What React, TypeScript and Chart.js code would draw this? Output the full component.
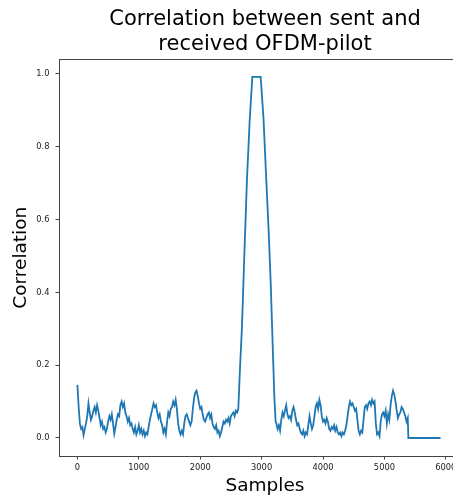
import React, { useEffect, useRef } from "react";
import { Chart, registerables } from "chart.js";

Chart.register(...registerables);

const TITLE_LINES = ["Correlation between sent and", "received OFDM-pilot"];
const X_LABEL = "Samples";
const Y_LABEL = "Correlation";
const X_TICKS = [0, 1000, 2000, 3000, 4000, 5000, 6000];
const Y_TICKS = [0, 0.2, 0.4, 0.6, 0.8, 1.0];

// noise before the peak: samples 0..2600, every 20 samples
const LEFT_START = 0;
const STEP = 20;
const leftNoise = [
  0.146, 0.085, 0.04, 0.025, 0.03, 0.008, 0.025, 0.04, 0.06, 0.095,
  0.07, 0.05, 0.06, 0.075, 0.085, 0.07, 0.09, 0.075, 0.055, 0.035,
  0.045, 0.025, 0.03, 0.015, 0.025, 0.045, 0.06, 0.05, 0.065, 0.04,
  0.012, 0.03, 0.05, 0.065, 0.06, 0.09, 0.1, 0.085, 0.095, 0.07,
  0.06, 0.045, 0.055, 0.035, 0.04, 0.025, 0.015, 0.03, 0.01, 0.02,
  0.035, 0.015, 0.025, 0.01, 0.02, 0.005, 0.015, 0.01, 0.03, 0.05,
  0.065, 0.08, 0.095, 0.085, 0.09, 0.07, 0.055, 0.065, 0.045, 0.035,
  0.015, 0.025, 0.01, 0.045, 0.07, 0.06, 0.08, 0.085, 0.1, 0.09,
  0.105, 0.08, 0.04, 0.02, 0.01, 0.02, 0.01, 0.04, 0.06, 0.065,
  0.055, 0.045, 0.035, 0.045, 0.08, 0.11, 0.125, 0.13, 0.115, 0.095,
  0.08, 0.085, 0.065, 0.05, 0.045, 0.055, 0.065, 0.07, 0.055, 0.065,
  0.04, 0.03, 0.025, 0.035, 0.015, 0.02, 0.005, 0.015, 0.03, 0.045,
  0.04, 0.05, 0.045, 0.055, 0.04, 0.06, 0.065, 0.07, 0.06, 0.075,
  0.07,
];

// the correlation peak
const peakSamples = [2620, 2650, 2680, 2720, 2761, 2805, 2849, 2984, 3030, 3076, 3114, 3148, 3184, 3208, 3228];
const peakValues = [0.08, 0.2, 0.306, 0.51, 0.709, 0.87, 0.992, 0.992, 0.88, 0.709, 0.571, 0.426, 0.234, 0.11, 0.045];

// noise after the peak: samples 3240..5380, every 20 samples
const RIGHT_START = 3240;
const rightNoise = [
  0.04, 0.025, 0.035, 0.02, 0.05, 0.07, 0.06, 0.075, 0.09, 0.065,
  0.055, 0.06, 0.05, 0.075, 0.085, 0.07, 0.05, 0.035, 0.04, 0.025,
  0.015, 0.01, 0.02, 0.005, 0.015, 0.01, 0.035, 0.06, 0.04, 0.025,
  0.035, 0.06, 0.085, 0.095, 0.08, 0.105, 0.09, 0.06, 0.045, 0.05,
  0.04, 0.055, 0.045, 0.025, 0.02, 0.03, 0.025, 0.035, 0.02, 0.03,
  0.015, 0.01, 0.015, 0.005, 0.015, 0.01, 0.02, 0.035, 0.06, 0.085,
  0.1, 0.09, 0.095, 0.085, 0.075, 0.08, 0.05, 0.02, 0.01, 0.02,
  0.015, 0.05, 0.085, 0.09, 0.08, 0.095, 0.1, 0.09, 0.105, 0.095,
  0.1, 0.04, 0.01, 0.015, 0.005, 0.045, 0.065, 0.07, 0.06, 0.075,
  0.04, 0.065, 0.05, 0.09, 0.115, 0.13, 0.12, 0.1, 0.075, 0.055,
  0.065, 0.07, 0.085, 0.08, 0.07, 0.06, 0.045, 0.055,
];

// flat tail
const tailSamples = [5390, 5914];
const tailValues = [0, 0];

const FONT = "'DejaVu Sans', sans-serif";
const LINE_COLOR = "#1f77b4";
const AXIS_COLOR = "#444444";

function buildPoints() {
  const pts: { x: number; y: number }[] = [];
  leftNoise.forEach((v, i) => pts.push({ x: LEFT_START + i * STEP, y: v }));
  peakSamples.forEach((s, i) => pts.push({ x: s, y: peakValues[i] }));
  rightNoise.forEach((v, i) => pts.push({ x: RIGHT_START + i * STEP, y: v }));
  tailSamples.forEach((s, i) => pts.push({ x: s, y: tailValues[i] }));
  return pts;
}

const boxPlugin = {
  id: "boxPlugin",
  afterDatasetsDraw(chart: any) {
    const { ctx, chartArea } = chart;
    ctx.save();
    ctx.strokeStyle = AXIS_COLOR;
    ctx.lineWidth = 1;
    ctx.strokeRect(
      Math.round(chartArea.left) + 0.5,
      Math.round(chartArea.top) + 0.5,
      Math.round(chartArea.right - chartArea.left),
      Math.round(chartArea.bottom - chartArea.top)
    );
    ctx.restore();
  },
};

export default function App() {
  const canvasRef = useRef<HTMLCanvasElement | null>(null);

  useEffect(() => {
    if (!canvasRef.current) return;
    const chart = new Chart(canvasRef.current, {
      type: "line",
      data: {
        datasets: [
          {
            data: buildPoints(),
            borderColor: LINE_COLOR,
            backgroundColor: LINE_COLOR,
            borderWidth: 1.8,
            pointRadius: 0,
            tension: 0,
            fill: false,
          },
        ],
      },
      options: {
        responsive: false,
        animation: false,
        layout: { padding: { left: 0, right: 9, top: 0, bottom: 0 } },
        plugins: {
          legend: { display: false },
          tooltip: { enabled: false },
          title: {
            display: true,
            text: TITLE_LINES,
            fullSize: false,
            color: "#000",
            font: { family: FONT, size: 21, weight: "normal", lineHeight: 1.2 },
            padding: { top: 7, bottom: 2 },
          },
        },
        scales: {
          x: {
            type: "linear",
            min: -300,
            max: 6410,
            afterBuildTicks: (scale: any) => {
              scale.ticks = X_TICKS.map((v) => ({ value: v }));
            },
            afterFit: (scale: any) => {
              scale.height = 43;
            },
            grid: {
              display: true,
              drawOnChartArea: false,
              drawTicks: true,
              tickLength: 3.5,
              color: AXIS_COLOR,
              lineWidth: 1,
            },
            border: { display: false },
            ticks: {
              color: "#222",
              font: { family: FONT, size: 8.3 },
              padding: 3,
              maxRotation: 0,
              autoSkip: false,
              callback: (v: any) => String(v),
            },
            title: {
              display: true,
              text: X_LABEL,
              color: "#000",
              font: { family: FONT, size: 18.5, lineHeight: 1.2 },
              padding: { top: 0, bottom: 1.5 },
            },
          },
          y: {
            type: "linear",
            min: -0.0495,
            max: 1.04,
            afterBuildTicks: (scale: any) => {
              scale.ticks = Y_TICKS.map((v) => ({ value: v }));
            },
            afterFit: (scale: any) => {
              scale.width = 59;
            },
            grid: {
              display: true,
              drawOnChartArea: false,
              drawTicks: true,
              tickLength: 3.5,
              color: AXIS_COLOR,
              lineWidth: 1,
            },
            border: { display: false },
            ticks: {
              color: "#222",
              font: { family: FONT, size: 8.3 },
              padding: 6,
              autoSkip: false,
              callback: (v: any) => Number(v).toFixed(1),
            },
            title: {
              display: true,
              text: Y_LABEL,
              color: "#000",
              font: { family: FONT, size: 18.5, lineHeight: 1.2 },
              padding: { top: 10, bottom: 0 },
            },
          },
        },
      },
      plugins: [boxPlugin],
    });
    return () => chart.destroy();
  }, []);

  return (
    <div
      style={{
        position: "fixed",
        left: 0,
        top: 0,
        width: 453,
        height: 499,
        overflow: "hidden",
        background: "#fff",
      }}
    >
      <canvas ref={canvasRef} width={480} height={499} style={{ display: "block" }} />
    </div>
  );
}
